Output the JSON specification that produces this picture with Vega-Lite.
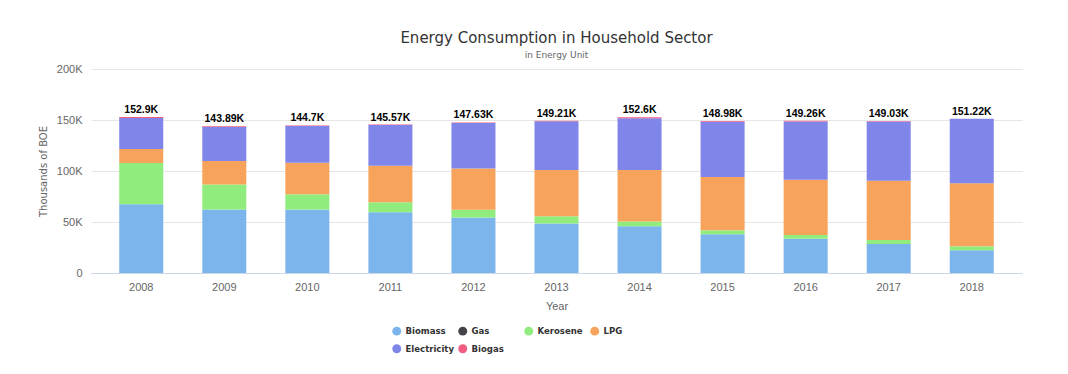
{
  "$schema": "https://vega.github.io/schema/vega-lite/v6.json",
  "width": 931,
  "height": 204,
  "autosize": "none",
  "padding": {"left": 91, "top": 69, "right": 46, "bottom": 101},
  "background": "#ffffff",
  "title": {
    "text": "Energy Consumption in Household Sector",
    "subtitle": "in Energy Unit",
    "anchor": "middle",
    "font": "DejaVu Sans",
    "fontSize": 15,
    "fontWeight": "normal",
    "color": "#333333",
    "subtitleFont": "DejaVu Sans",
    "subtitleFontSize": 9,
    "subtitleColor": "#666666",
    "subtitlePadding": 5,
    "offset": 3
  },
  "data": {
    "values": [
      {"year": "2008", "source": "Biomass", "value": 67.5},
      {"year": "2008", "source": "Gas", "value": 0},
      {"year": "2008", "source": "Kerosene", "value": 40.3},
      {"year": "2008", "source": "LPG", "value": 13.7},
      {"year": "2008", "source": "Electricity", "value": 30.5},
      {"year": "2008", "source": "Biogas", "value": 0.9},
      {"year": "2009", "source": "Biomass", "value": 62.2},
      {"year": "2009", "source": "Gas", "value": 0},
      {"year": "2009", "source": "Kerosene", "value": 24.6},
      {"year": "2009", "source": "LPG", "value": 22.9},
      {"year": "2009", "source": "Electricity", "value": 33.39},
      {"year": "2009", "source": "Biogas", "value": 0.8},
      {"year": "2010", "source": "Biomass", "value": 62.2},
      {"year": "2010", "source": "Gas", "value": 0},
      {"year": "2010", "source": "Kerosene", "value": 15.1},
      {"year": "2010", "source": "LPG", "value": 30.8},
      {"year": "2010", "source": "Electricity", "value": 36.0},
      {"year": "2010", "source": "Biogas", "value": 0.6},
      {"year": "2011", "source": "Biomass", "value": 59.6},
      {"year": "2011", "source": "Gas", "value": 0},
      {"year": "2011", "source": "Kerosene", "value": 9.8},
      {"year": "2011", "source": "LPG", "value": 35.7},
      {"year": "2011", "source": "Electricity", "value": 39.97},
      {"year": "2011", "source": "Biogas", "value": 0.5},
      {"year": "2012", "source": "Biomass", "value": 54.4},
      {"year": "2012", "source": "Gas", "value": 0},
      {"year": "2012", "source": "Kerosene", "value": 7.5},
      {"year": "2012", "source": "LPG", "value": 40.6},
      {"year": "2012", "source": "Electricity", "value": 44.63},
      {"year": "2012", "source": "Biogas", "value": 0.5},
      {"year": "2013", "source": "Biomass", "value": 48.5},
      {"year": "2013", "source": "Gas", "value": 0},
      {"year": "2013", "source": "Kerosene", "value": 7.2},
      {"year": "2013", "source": "LPG", "value": 45.2},
      {"year": "2013", "source": "Electricity", "value": 47.81},
      {"year": "2013", "source": "Biogas", "value": 0.5},
      {"year": "2014", "source": "Biomass", "value": 45.9},
      {"year": "2014", "source": "Gas", "value": 0},
      {"year": "2014", "source": "Kerosene", "value": 4.5},
      {"year": "2014", "source": "LPG", "value": 50.5},
      {"year": "2014", "source": "Electricity", "value": 50.8},
      {"year": "2014", "source": "Biogas", "value": 0.9},
      {"year": "2015", "source": "Biomass", "value": 38.0},
      {"year": "2015", "source": "Gas", "value": 0},
      {"year": "2015", "source": "Kerosene", "value": 3.9},
      {"year": "2015", "source": "LPG", "value": 52.1},
      {"year": "2015", "source": "Electricity", "value": 54.18},
      {"year": "2015", "source": "Biogas", "value": 0.8},
      {"year": "2016", "source": "Biomass", "value": 33.7},
      {"year": "2016", "source": "Gas", "value": 0},
      {"year": "2016", "source": "Kerosene", "value": 3.6},
      {"year": "2016", "source": "LPG", "value": 54.1},
      {"year": "2016", "source": "Electricity", "value": 57.06},
      {"year": "2016", "source": "Biogas", "value": 0.8},
      {"year": "2017", "source": "Biomass", "value": 28.5},
      {"year": "2017", "source": "Gas", "value": 0},
      {"year": "2017", "source": "Kerosene", "value": 3.9},
      {"year": "2017", "source": "LPG", "value": 58.0},
      {"year": "2017", "source": "Electricity", "value": 58.03},
      {"year": "2017", "source": "Biogas", "value": 0.6},
      {"year": "2018", "source": "Biomass", "value": 22.3},
      {"year": "2018", "source": "Gas", "value": 0},
      {"year": "2018", "source": "Kerosene", "value": 3.9},
      {"year": "2018", "source": "LPG", "value": 61.9},
      {"year": "2018", "source": "Electricity", "value": 63.12},
      {"year": "2018", "source": "Biogas", "value": 0}
    ]
  },
  "encoding": {
    "x": {
      "field": "year",
      "type": "ordinal",
      "title": "Year",
      "scale": {"paddingInner": 0.47, "paddingOuter": 0.34},
      "axis": {
        "labelAngle": 0,
        "labelFont": "Liberation Sans",
        "labelFontSize": 11,
        "labelColor": "#666666",
        "labelPadding": 8,
        "ticks": false,
        "domainColor": "#ccd6eb",
        "titleFont": "Liberation Sans",
        "titleFontSize": 11,
        "titleFontWeight": "normal",
        "titleColor": "#666666",
        "titlePadding": 8
      }
    }
  },
  "layer": [
    {
      "transform": [
        {"calculate": "indexof(['Biomass','Gas','Kerosene','LPG','Electricity','Biogas'], datum.source)", "as": "stackOrder"}
      ],
      "mark": {"type": "bar"},
      "encoding": {
        "y": {
          "field": "value",
          "type": "quantitative",
          "aggregate": "sum",
          "stack": "zero",
          "title": "Thousands of BOE",
          "scale": {"domain": [0, 200], "nice": false},
          "axis": {
            "values": [0, 50, 100, 150, 200],
            "labelExpr": "datum.value == 0 ? '0' : datum.value + 'K'",
            "labelFont": "Liberation Sans",
            "labelFontSize": 11,
            "labelColor": "#666666",
            "labelPadding": 9,
            "ticks": false,
            "domain": false,
            "gridColor": "#e6e6e6",
            "titleFont": "DejaVu Sans",
            "titleFontSize": 10,
            "titleFontWeight": "normal",
            "titleColor": "#666666",
            "titlePadding": 8
          }
        },
        "order": {"field": "stackOrder", "type": "quantitative", "sort": "ascending"},
        "color": {
          "field": "source",
          "type": "nominal",
          "sort": ["Biomass", "Gas", "Kerosene", "LPG", "Electricity", "Biogas"],
          "scale": {
            "domain": ["Biomass", "Gas", "Kerosene", "LPG", "Electricity", "Biogas"],
            "range": ["#7cb5ec", "#434348", "#90ed7d", "#f7a35c", "#8085e9", "#f15c80"]
          },
          "legend": {
            "title": null,
            "orient": "none",
            "legendX": 301,
            "legendY": 257,
            "direction": "horizontal",
            "columns": 4,
            "gridAlign": "all",
            "columnPadding": 3,
            "rowPadding": 7,
            "symbolType": "circle",
            "symbolSize": 80,
            "symbolStrokeWidth": 0,
            "symbolOpacity": 1,
            "labelFont": "DejaVu Sans Condensed, Liberation Sans Narrow, Roboto Condensed, Liberation Sans, sans-serif",
            "labelFontSize": 9.5,
            "labelFontWeight": "bold",
            "labelColor": "#333333",
            "labelOffset": 4
          }
        }
      }
    },
    {
      "transform": [
        {"aggregate": [{"op": "sum", "field": "value", "as": "total"}], "groupby": ["year"]},
        {"calculate": "format(datum.total, '.2~f') + 'K'", "as": "label"}
      ],
      "mark": {
        "type": "text",
        "font": "Liberation Sans",
        "fontSize": 10.5,
        "fontWeight": "bold",
        "color": "#000000",
        "baseline": "alphabetic",
        "dy": -4
      },
      "encoding": {
        "y": {"field": "total", "type": "quantitative"},
        "text": {"field": "label"}
      }
    }
  ],
  "config": {
    "view": {"stroke": null}
  }
}
